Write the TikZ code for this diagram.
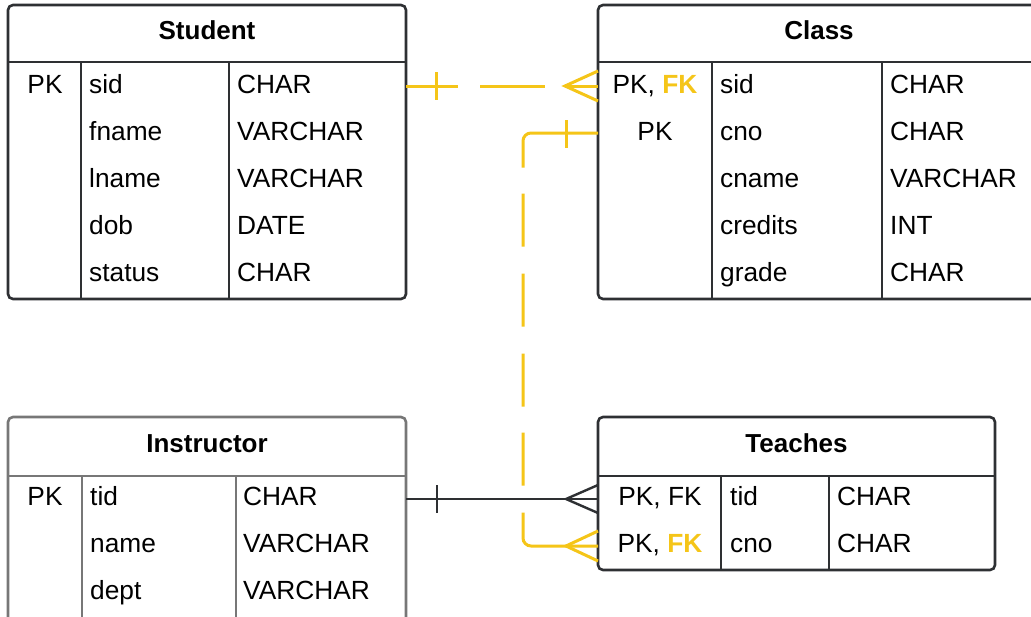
\documentclass[tikz,border=0pt]{standalone}
\usepackage{fontspec}
\setmainfont{Liberation Sans}
\definecolor{dark}{HTML}{2E3033}
\definecolor{gry}{HTML}{777777}
\definecolor{ylw}{HTML}{F5C518}
\newcommand\bodyf{\fontsize{26.3}{30}\selectfont}
\newcommand\headf{\fontsize{26}{30}\selectfont\bfseries}
\newcommand\fkey{\textcolor{ylw}{\bfseries FK}}
\begin{document}
\begin{tikzpicture}[x=1pt,y=-1pt,
 tbl/.style={draw=dark,line width=2.6pt,rounded corners=5pt,inner sep=0pt,outer sep=0pt,anchor=north west},
 div/.style={draw=dark,line width=2.4pt},
 cl/.style={anchor=base west,inner sep=0pt,font=\bodyf},
 cc/.style={anchor=base,inner sep=0pt,font=\bodyf},
 ttl/.style={anchor=base,inner sep=0pt,font=\headf},
 yconn/.style={draw=ylw,line width=3pt},
 bconn/.style={draw=dark,line width=2.4pt}]
\fill[white] (0,0) rectangle (1031,616);
\useasboundingbox (0,0) rectangle (1031,616);
\clip (0,0) rectangle (1031,616);

% ---------- Student ----------
\node[tbl,minimum width=398pt,minimum height=294pt] (student) at (8,5) {};
\draw[div] (8,62) -- (406,62);
\draw[div] (81,62) -- (81,299);
\draw[div] (229,62) -- (229,299);
\node[ttl] (st-t) at (207,39) {Student};
\node[cc] (st-pk) at (45,93) {PK};
\node[cl] (st-a1) at (89,93) {sid};
\node[cl] (st-a2) at (89,140) {fname};
\node[cl] (st-a3) at (89,187) {lname};
\node[cl] (st-a4) at (89,234) {dob};
\node[cl] (st-a5) at (89,281) {status};
\node[cl] (st-b1) at (237,93) {CHAR};
\node[cl] (st-b2) at (237,140) {VARCHAR};
\node[cl] (st-b3) at (237,187) {VARCHAR};
\node[cl] (st-b4) at (237,234) {DATE};
\node[cl] (st-b5) at (237,281) {CHAR};

% ---------- Class ----------
\node[tbl,minimum width=442pt,minimum height=294pt] (class) at (598,5) {};
\draw[div] (598,62) -- (1040,62);
\draw[div] (712,62) -- (712,299);
\draw[div] (882,62) -- (882,299);
\node[ttl] (cl-t) at (819,39) {Class};
\node[cc] (cl-pk1) at (655,93) {PK, \fkey};
\node[cc] (cl-pk2) at (655,140) {PK};
\node[cl] (cl-a1) at (720,93) {sid};
\node[cl] (cl-a2) at (720,140) {cno};
\node[cl] (cl-a3) at (720,187) {cname};
\node[cl] (cl-a4) at (720,234) {credits};
\node[cl] (cl-a5) at (720,281) {grade};
\node[cl] (cl-b1) at (890,93) {CHAR};
\node[cl] (cl-b2) at (890,140) {CHAR};
\node[cl] (cl-b3) at (890,187) {VARCHAR};
\node[cl] (cl-b4) at (890,234) {INT};
\node[cl] (cl-b5) at (890,281) {CHAR};

% ---------- Instructor ----------
\node[tbl,draw=gry,minimum width=398pt,minimum height=213pt] (instr) at (8,417) {};
\draw[div,draw=gry] (8,476) -- (406,476);
\draw[div,draw=gry] (82,476) -- (82,630);
\draw[div,draw=gry] (236,476) -- (236,630);
\node[ttl] (in-t) at (207,452) {Instructor};
\node[cc] (in-pk) at (45,505) {PK};
\node[cl] (in-a1) at (90,505) {tid};
\node[cl] (in-a2) at (90,552) {name};
\node[cl] (in-a3) at (90,599) {dept};
\node[cl] (in-b1) at (243,505) {CHAR};
\node[cl] (in-b2) at (243,552) {VARCHAR};
\node[cl] (in-b3) at (243,599) {VARCHAR};

% ---------- Teaches ----------
\node[tbl,minimum width=397pt,minimum height=153pt] (teach) at (598,417) {};
\draw[div] (598,476) -- (995,476);
\draw[div] (721,476) -- (721,570);
\draw[div] (829,476) -- (829,570);
\node[ttl] (te-t) at (796.5,452) {Teaches};
\node[cc] (te-pk1) at (660,505) {PK, FK};
\node[cc] (te-pk2) at (660,552) {PK, \fkey};
\node[cl] (te-a1) at (730,505) {tid};
\node[cl] (te-a2) at (730,552) {cno};
\node[cl] (te-b1) at (837,505) {CHAR};
\node[cl] (te-b2) at (837,552) {CHAR};

% ---------- Student.sid -> Class.sid ----------
\draw[yconn,dash pattern=on 52pt off 22pt on 65pt off 20pt on 200pt]
  (student.east |- 0,86) -- (class.west |- 0,86);
\draw[yconn] (436,72) -- (436,100);
\draw[yconn] (class.west |- 0,71) -- (565,86) -- (class.west |- 0,101);

% ---------- Class.cno -> Teaches.cno ----------
\draw[yconn,rounded corners=8pt,
  dash pattern=on 106pt off 26pt on 53pt off 27pt on 53pt off 27pt on 53pt off 26pt on 53pt off 27pt on 300pt]
  (class.west |- 0,133) -- (523,133) -- (523,546) -- (teach.west |- 0,546);
\draw[yconn] (566,120) -- (566,148);
\draw[yconn] (teach.west |- 0,531) -- (566,546) -- (teach.west |- 0,561);

% ---------- Instructor.tid -> Teaches.tid ----------
\draw[bconn] (instr.east |- 0,499) -- (teach.west |- 0,499);
\draw[bconn] (437,485) -- (437,513);
\draw[bconn] (teach.west |- 0,485) -- (566,499) -- (teach.west |- 0,513);
\end{tikzpicture}
\end{document}
